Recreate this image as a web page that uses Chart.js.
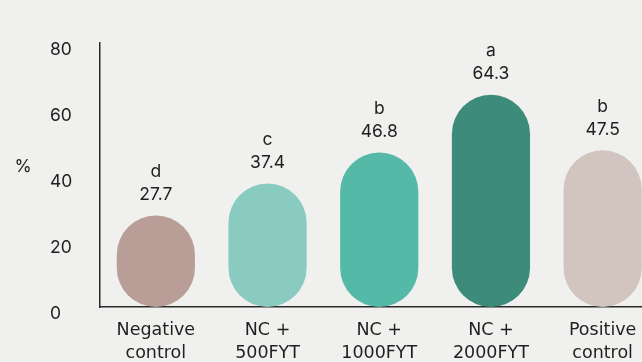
<!DOCTYPE html>
<html>
<head>
<meta charset="utf-8">
<script src="https://cdn.jsdelivr.net/npm/chart.js@4/dist/chart.umd.min.js"></script>
<style>
  html, body { margin: 0; padding: 0; background: #f0f0ee; overflow: hidden; }
  #wrap { width: 642px; height: 362px; overflow: hidden; }
  canvas { display: block; }
</style>
</head>
<body>
<div id="wrap"><canvas id="c" width="660" height="362"></canvas></div>
<script>
// Treatment groups (two-line axis labels)
const categories = [
  ['Negative', 'control'],
  ['NC +', '500FYT'],
  ['NC +', '1000FYT'],
  ['NC +', '2000FYT'],
  ['Positive', 'control']
];
// Measured response, %
const values = [27.7, 37.4, 46.8, 64.3, 47.5];
// Significance letters per group
const groupLetters = ['d', 'c', 'b', 'a', 'b'];
// Y axis ticks
const yTicks = [0, 20, 40, 60, 80];

const barColors = ['#b89e97', '#8acbc1', '#55b9a8', '#3d8b7a', '#d2c4bf'];
const FONT = 'Inter, "DejaVu Sans", sans-serif';
const LABEL_FONT = '"DejaVu Sans", sans-serif';
const TEXT = '#1f1f1f';

// Letter and value drawn above every bar, plus the horizontal "%" axis caption
const annotate = {
  id: 'annotate',
  afterDatasetsDraw(chart) {
    const ctx = chart.ctx;
    const meta = chart.getDatasetMeta(0);
    ctx.save();
    ctx.fillStyle = TEXT;
    ctx.font = '17.5px ' + FONT;
    ctx.textAlign = 'center';
    ctx.textBaseline = 'middle';
    meta.data.forEach((bar, i) => {
      ctx.fillText(values[i].toFixed(1), bar.x, bar.y - 21);
      ctx.fillText(groupLetters[i], bar.x, bar.y - 44);
    });
    const area = chart.chartArea;
    ctx.fillText('%', 23, (area.top + area.bottom) / 2 - 8);
    ctx.restore();
  }
};

new Chart(document.getElementById('c'), {
  type: 'bar',
  data: {
    labels: categories,
    datasets: [{
      data: values,
      backgroundColor: barColors,
      borderRadius: 60,
      borderSkipped: false,
      barPercentage: 0.7,
      categoryPercentage: 1
    }]
  },
  options: {
    responsive: false,
    animation: false,
    layout: { padding: { left: 50, right: 1.5, top: 43, bottom: 0 } },
    plugins: { legend: { display: false }, tooltip: { enabled: false } },
    scales: {
      x: {
        grid: { display: false, drawTicks: false },
        border: { display: true, color: '#2a2a2a', width: 1.5 },
        ticks: {
          color: TEXT,
          font: { family: LABEL_FONT, size: 17.5, lineHeight: 1.32 },
          padding: 12,
          maxRotation: 0,
          autoSkip: false
        },
        afterFit(scale) { scale.height = 55; }
      },
      y: {
        min: 0,
        max: 80,
        afterBuildTicks(scale) { scale.ticks = yTicks.map(v => ({ value: v })); },
        grid: { display: false, drawTicks: false },
        border: { display: true, color: '#2a2a2a', width: 1.5 },
        ticks: {
          color: TEXT,
          font: { family: FONT, size: 17.5 },
          crossAlign: 'far',
          labelOffset: 7,
          padding: 26
        },
        afterFit(scale) { scale.width = 50; }
      }
    }
  },
  plugins: [annotate]
});
</script>
</body>
</html>
